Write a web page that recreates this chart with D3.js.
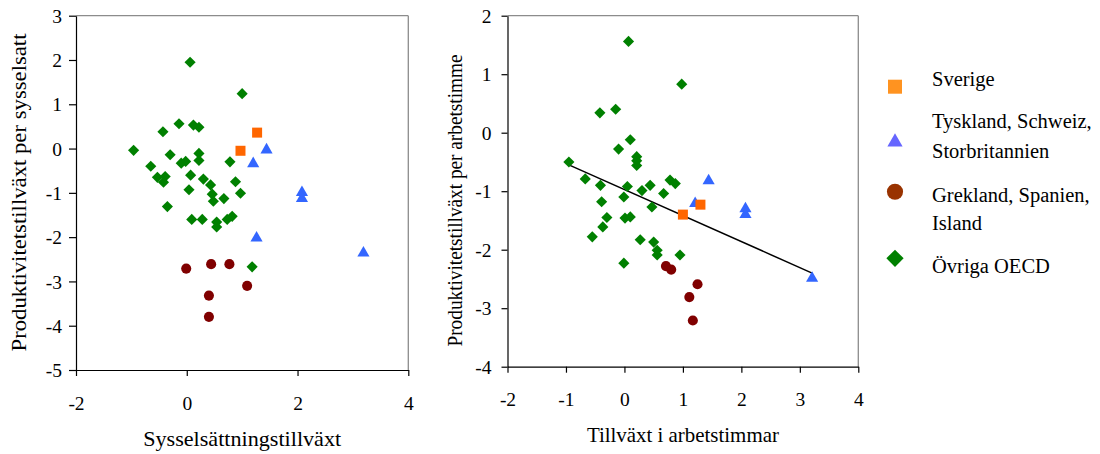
<!DOCTYPE html>
<html>
<head>
<meta charset="utf-8">
<script src="https://cdn.jsdelivr.net/npm/d3@7"></script>
<style>
  html, body { margin: 0; padding: 0; background: #fff; }
  svg { display: block; }
</style>
</head>
<body>
<svg id="chart" width="1100" height="454"></svg>
<script>
// ---------- data ----------
const seriesNames = ["Sverige", "Tyskland, Schweiz, Storbritannien", "Grekland, Spanien, Island", "Övriga OECD"];

// Left panel: x = Sysselsättningstillväxt, y = Produktivitetstillväxt per sysselsatt
const sverigeLeft = [[1.27, 0.36], [0.97, -0.05]];
const tyskLeft = [[1.44, -0.03], [1.20, -0.34], [2.08, -0.99], [2.08, -1.13], [1.26, -2.02], [3.19, -2.36]];
const grekLeft = [[-0.01, -2.71], [0.44, -2.61], [0.77, -2.61], [1.09, -3.10], [0.40, -3.32], [0.40, -3.80]];
const ovrigaLeft = [
  [0.06, 1.95], [1.00, 1.24], [-0.43, 0.38], [-0.14, 0.56], [0.12, 0.53], [0.22, 0.48],
  [-0.96, -0.04], [-0.30, -0.14], [0.22, -0.11], [0.22, -0.27], [-0.10, -0.33], [-0.02, -0.29],
  [0.78, -0.30], [-0.65, -0.40], [0.07, -0.60], [-0.53, -0.65], [-0.39, -0.63], [-0.42, -0.76],
  [0.30, -0.69], [0.43, -0.82], [0.88, -0.75], [0.04, -0.93], [0.46, -1.03], [0.97, -1.01],
  [0.48, -1.19], [0.67, -1.13], [-0.35, -1.31], [0.09, -1.60], [0.28, -1.60], [0.54, -1.66],
  [0.73, -1.60], [0.82, -1.53], [0.54, -1.77], [1.18, -2.67]
];

// Right panel: x = Tillväxt i arbetstimmar, y = Produktivitetstillväxt per arbetstimme
const sverigeRight = [[1.30, -1.23], [1.00, -1.40]];
const tyskRight = [[1.44, -0.82], [1.21, -1.21], [2.07, -1.30], [2.07, -1.40], [3.21, -2.49]];
const grekRight = [[0.71, -2.28], [0.80, -2.34], [1.25, -2.59], [1.11, -2.81], [1.17, -3.21]];
const ovrigaRight = [
  [0.07, 1.56], [0.98, 0.83], [-0.42, 0.34], [-0.15, 0.40], [0.10, -0.12], [-0.10, -0.28],
  [0.21, -0.41], [0.21, -0.48], [0.21, -0.56], [-0.95, -0.50], [-0.67, -0.79], [-0.41, -0.90],
  [0.05, -0.92], [0.44, -0.90], [0.30, -0.99], [0.78, -0.81], [0.87, -0.87], [0.67, -1.04],
  [-0.01, -1.10], [-0.39, -1.18], [0.47, -1.27], [0.01, -1.46], [0.10, -1.44], [-0.30, -1.45],
  [-0.37, -1.61], [-0.55, -1.78], [0.27, -1.83], [0.50, -1.87], [0.56, -2.01], [0.56, -2.09],
  [0.95, -2.09], [-0.01, -2.23]
];
const trendRight = [[-0.95, -0.55], [3.21, -2.40]];

// ticks
const xTicksLeft = [-2, 0, 2, 4];
const yTicksLeft = [3, 2, 1, 0, -1, -2, -3, -4, -5];
const xTicksRight = [-2, -1, 0, 1, 2, 3, 4];
const yTicksRight = [2, 1, 0, -1, -2, -3, -4];

const xTitleLeft = "Sysselsättningstillväxt";
const yTitleLeft = "Produktivitetstillväxt per sysselsatt";
const xTitleRight = "Tillväxt i arbetstimmar";
const yTitleRight = "Produktivitetstillväxt per arbetstimme";

// ---------- styles ----------
const FONT = "'Liberation Serif', 'Times New Roman', 'DejaVu Serif', serif";
const markStyle = {
  sq: { fill: "#FF6600" },
  tri: { fill: "#3366FF" },
  circ: { fill: "#800000" },
  dia: { fill: "#008000" }
};
const legendStyle = {
  sq: "#FF9320",
  tri: "#6666FF",
  circ: "#993300",
  dia: "#008000"
};

const svg = d3.select("#chart");

function symbolPath(kind, scale) {
  const s = scale || 1;
  if (kind === "sq") return d3.symbol(d3.symbolSquare, 100 * s * s)();
  if (kind === "tri") return d3.symbol(d3.symbolTriangle, 64 * s * s)();
  if (kind === "circ") return d3.symbol(d3.symbolCircle, 80 * s * s)();
  if (kind === "dia") return d3.symbol(d3.symbolSquare, 62 * s * s)();
}

function drawPanel(cfg) {
  const g = svg.append("g");
  const x = d3.scaleLinear().domain([-2, 4]).range(cfg.xRange);
  const y = d3.scaleLinear().domain(cfg.yDomain).range(cfg.yRange);

  // frame top/right in grey
  g.append("line").attr("x1", x(-2)).attr("x2", x(4)).attr("y1", y(cfg.yDomain[1])).attr("y2", y(cfg.yDomain[1]))
    .attr("stroke", "#8c8c8c").attr("stroke-width", 1.3);
  g.append("line").attr("x1", x(4)).attr("x2", x(4)).attr("y1", y(cfg.yDomain[1])).attr("y2", y(cfg.yDomain[0]))
    .attr("stroke", "#8c8c8c").attr("stroke-width", 1.3);

  // axes
  const ax = g.append("g").attr("transform", `translate(0,${y(cfg.yDomain[0])})`)
    .call(d3.axisBottom(x).tickValues(cfg.xTicks).tickSize(6).tickSizeOuter(0).tickFormat(d => String(d)));
  ax.attr("font-family", null).attr("font-size", null);
  ax.selectAll("text").attr("y", cfg.xLabelDy).attr("dy", 0)
    .style("font-family", FONT).style("font-size", "19.5px");
  const ay = g.append("g").attr("transform", `translate(${x(-2)},0)`)
    .call(d3.axisLeft(y).tickValues(cfg.yTicks).tickSize(cfg.yTickSize).tickSizeOuter(0).tickFormat(d => String(d)));
  ay.attr("font-family", null).attr("font-size", null);
  ay.selectAll("text").attr("x", -cfg.yLabelGap).attr("dy", "0.34em")
    .style("font-family", FONT).style("font-size", "19.5px");
  g.selectAll(".domain, .tick line").attr("stroke", "#000").attr("stroke-width", 1.2);

  // titles
  const xMid = (cfg.xRange[0] + cfg.xRange[1]) / 2;
  g.append("text").attr("x", xMid).attr("y", cfg.xTitleY).attr("text-anchor", "middle")
    .style("font-family", FONT).style("font-size", "21px")
    .attr("textLength", cfg.xTitleLen).attr("lengthAdjust", "spacingAndGlyphs")
    .text(cfg.xTitle);
  g.append("text").attr("transform", `translate(${cfg.yTitleX},${cfg.yTitleMid}) rotate(-90)`)
    .attr("text-anchor", "middle").style("font-family", FONT).style("font-size", "21px")
    .attr("textLength", cfg.yTitleLen).attr("lengthAdjust", "spacingAndGlyphs")
    .text(cfg.yTitle);

  // trend line
  if (cfg.trend) {
    g.append("path").attr("d", d3.line().x(d => x(d[0])).y(d => y(d[1]))(cfg.trend))
      .attr("stroke", "#000").attr("stroke-width", 1.5).attr("fill", "none");
  }

  // points
  const series = [
    { kind: "dia", data: cfg.ovriga },
    { kind: "circ", data: cfg.grek },
    { kind: "tri", data: cfg.tysk },
    { kind: "sq", data: cfg.sverige }
  ];
  series.forEach(s => {
    g.append("g").selectAll("path").data(s.data).join("path")
      .attr("d", symbolPath(s.kind))
      .attr("transform", d => `translate(${x(d[0])},${y(d[1])})` + (s.kind === "dia" ? " rotate(45)" : ""))
      .attr("fill", markStyle[s.kind].fill);
  });
}

drawPanel({
  xRange: [76, 408.3], yDomain: [-5, 3], yRange: [370, 15.7],
  xTicks: xTicksLeft, yTicks: yTicksLeft, yTickSize: 7, yLabelGap: 14, xLabelDy: 40,
  xTitle: xTitleLeft, xTitleY: 446, xTitleLen: 198,
  yTitle: yTitleLeft, yTitleX: 26, yTitleMid: 192.5, yTitleLen: 318,
  sverige: sverigeLeft, tysk: tyskLeft, grek: grekLeft, ovriga: ovrigaLeft
});

drawPanel({
  xRange: [507.5, 858.3], yDomain: [-4, 2], yRange: [366.7, 15.7],
  xTicks: xTicksRight, yTicks: yTicksRight, yTickSize: 6, yLabelGap: 16, xLabelDy: 39,
  xTitle: xTitleRight, xTitleY: 442, xTitleLen: 192,
  yTitle: yTitleRight, yTitleX: 462, yTitleMid: 200.5, yTitleLen: 292,
  sverige: sverigeRight, tysk: tyskRight, grek: grekRight, ovriga: ovrigaRight, trend: trendRight
});

// ---------- legend ----------
const legendItems = [
  { kind: "sq", lines: ["Sverige"], sy: 86.7, ty: [86] },
  { kind: "tri", lines: ["Tyskland, Schweiz,", "Storbritannien"], sy: 142, ty: [128, 158] },
  { kind: "circ", lines: ["Grekland, Spanien,", "Island"], sy: 191.7, ty: [201.5, 230] },
  { kind: "dia", lines: ["Övriga OECD"], sy: 258.3, ty: [273] }
];
const legendScale = { sq: 1.4, tri: 1.25, circ: 1.6, dia: 1.55 };
const lg = svg.append("g");
legendItems.forEach(it => {
  lg.append("path").attr("d", symbolPath(it.kind, legendScale[it.kind]))
    .attr("transform", `translate(895,${it.sy})` + (it.kind === "dia" ? " rotate(45)" : ""))
    .attr("fill", legendStyle[it.kind]);
  it.lines.forEach((ln, i) => {
    lg.append("text").attr("x", 932).attr("y", it.ty[i])
      .style("font-family", FONT).style("font-size", "20.5px").text(ln);
  });
});
</script>
</body>
</html>
